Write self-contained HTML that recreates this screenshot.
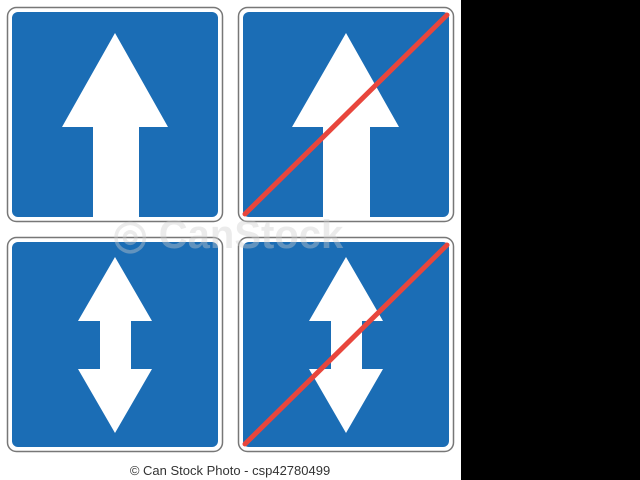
<!DOCTYPE html>
<html><head><meta charset="utf-8"><style>
html,body{margin:0;padding:0;background:#000;width:640px;height:480px;overflow:hidden}
svg{display:block}
</style></head><body>
<svg width="640" height="480" viewBox="0 0 640 480">
<rect x="0" y="0" width="640" height="480" fill="#000"/>
<rect x="0" y="0" width="461" height="480" fill="#fff"/>

<g>
<rect x="7.5" y="7.5" width="215" height="214" rx="9" fill="#fff" stroke="#777" stroke-width="1.5"/>
<rect x="12" y="12" width="206" height="205" rx="6" fill="#1b6db5"/>
<polygon points="115,33 168,127 139,127 139,217 93,217 93,127 62,127" fill="#fff"/>
</g>

<g>
<rect x="238.5" y="7.5" width="215" height="214" rx="9" fill="#fff" stroke="#777" stroke-width="1.5"/>
<rect x="243" y="12" width="206" height="205" rx="6" fill="#1b6db5"/>
<polygon points="346,33 399,127 370,127 370,217 323,217 323,127 292,127" fill="#fff"/>
<line x1="245" y1="214" x2="447" y2="15" stroke="#e8463c" stroke-width="5" stroke-linecap="round"/>
</g>

<g>
<rect x="7.5" y="237.5" width="215" height="214" rx="9" fill="#fff" stroke="#777" stroke-width="1.5"/>
<rect x="12" y="242" width="206" height="205" rx="6" fill="#1b6db5"/>
<polygon points="115,257 152,321 131,321 131,369 152,369 115,433 78,369 100,369 100,321 78,321" fill="#fff"/>
</g>

<g>
<rect x="238.5" y="237.5" width="215" height="214" rx="9" fill="#fff" stroke="#777" stroke-width="1.5"/>
<rect x="243" y="242" width="206" height="205" rx="6" fill="#1b6db5"/>
<polygon points="346,257 383,321 362,321 362,369 383,369 346,433 309,369 331,369 331,321 309,321" fill="#fff"/>
<line x1="245" y1="444" x2="447" y2="245" stroke="#e8463c" stroke-width="5" stroke-linecap="round"/>
</g>

<text x="228" y="248" text-anchor="middle" font-family="Liberation Sans, sans-serif" font-size="40" font-weight="bold" fill="#ccc" fill-opacity="0.4">◎ CanStock</text>
<text x="230" y="475" text-anchor="middle" font-family="Liberation Sans, sans-serif" font-size="13" fill="#333">© Can Stock Photo - csp42780499</text>
</svg>
</body></html>
